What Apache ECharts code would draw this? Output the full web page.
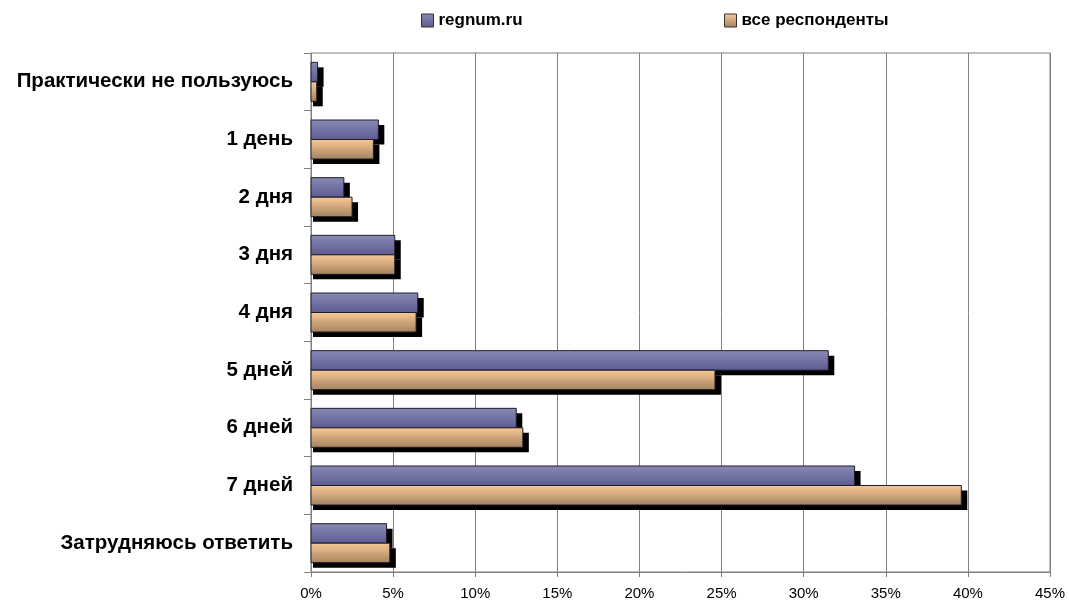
<!DOCTYPE html>
<html>
<head>
<meta charset="utf-8">
<script src="https://cdn.jsdelivr.net/npm/echarts@6/dist/echarts.min.js"></script>
<style>
  html, body { margin: 0; padding: 0; background: #fff; }
  #chart { width: 1069px; height: 605px; }
</style>
</head>
<body>
<div id="chart"></div>
<script>
// категории сверху вниз
const categories = ['Практически не пользуюсь', '1 день', '2 дня', '3 дня', '4 дня', '5 дней', '6 дней', '7 дней', 'Затрудняюсь ответить']
const regnumData = [0.4, 4.1, 2.0, 5.1, 6.5, 31.5, 12.5, 33.1, 4.6]
const allData = [0.35, 3.8, 2.5, 5.1, 6.4, 24.6, 12.9, 39.6, 4.8]
const seriesNames = ['regnum.ru', 'все респонденты']

const fontFamily = 'Liberation Sans, Arial, sans-serif'

let myChart = echarts.init(document.getElementById('chart'))

function grad(top, bottom) {
  return new echarts.graphic.LinearGradient(0, 0, 0, 1, [
    { offset: 0, color: top },
    { offset: 1, color: bottom }
  ])
}

const fills = [grad('#8a8ab5', '#5b5b91'), grad('#fbca97', '#a3825f')]

// столбик с чёрной "тенью" снизу справа
function makeRender(idx) {
  return function (params, api) {
    const cat = api.value(0)
    const val = api.value(1)
    const p0 = api.coord([0, cat])
    const p1 = api.coord([val, cat])
    const band = api.size([0, 1])[1]
    const h = band * 0.338
    const y = p0[1] + (idx === 0 ? -h : 0)
    const w = p1[0] - p0[0]
    return {
      type: 'group',
      children: [
        {
          type: 'rect',
          shape: { x: p0[0] + 2, y: y + 5, width: w + 4, height: h },
          style: { fill: '#000' }
        },
        {
          type: 'rect',
          shape: { x: p0[0], y: y, width: w, height: h },
          style: { fill: fills[idx], stroke: '#1e1e2a', lineWidth: 1 }
        }
      ]
    }
  }
}

const legendBase = {
  top: 7,
  itemWidth: 12,
  itemHeight: 13,
  itemGap: 7,
  icon: 'rect',
  textStyle: { fontFamily, fontWeight: 'bold', fontSize: 17, color: '#000' },
  itemStyle: { borderColor: '#333', borderWidth: 1 }
}

const option = {
  animation: false,
  legend: [
    Object.assign({}, legendBase, { left: 416, data: [seriesNames[0]] }),
    Object.assign({}, legendBase, { left: 719, data: [seriesNames[1]] })
  ],
  grid: { left: 311, right: 19, top: 53, bottom: 33, show: true, borderColor: '#808080', borderWidth: 1 },
  xAxis: {
    type: 'value',
    min: 0,
    max: 45,
    interval: 5,
    axisLine: { show: true, lineStyle: { color: '#808080' } },
    axisTick: { show: true, length: 5, lineStyle: { color: '#808080' } },
    axisLabel: { formatter: '{value}%', fontFamily, fontSize: 15, color: '#000', margin: 14 },
    splitLine: { show: true, lineStyle: { color: '#808080', width: 1 } }
  },
  yAxis: {
    type: 'category',
    inverse: true,
    data: categories,
    axisLine: { show: true, lineStyle: { color: '#808080' } },
    axisTick: { show: true, length: 7, lineStyle: { color: '#808080' } },
    axisLabel: { fontFamily, fontWeight: 'bold', fontSize: 20.5, color: '#000', margin: 18, padding: [4, 0, 0, 0] }
  },
  series: [
    {
      name: seriesNames[0],
      type: 'custom',
      renderItem: makeRender(0),
      encode: { x: 1, y: 0 },
      itemStyle: { color: fills[0] },
      data: regnumData.map((v, i) => [i, v])
    },
    {
      name: seriesNames[1],
      type: 'custom',
      renderItem: makeRender(1),
      encode: { x: 1, y: 0 },
      itemStyle: { color: fills[1] },
      data: allData.map((v, i) => [i, v])
    }
  ]
}

option && myChart.setOption(option)
</script>
</body>
</html>
